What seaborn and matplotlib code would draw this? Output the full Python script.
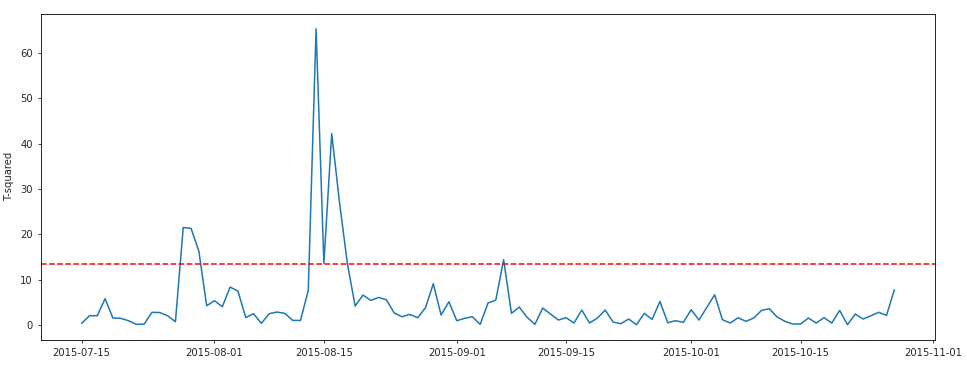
import matplotlib
matplotlib.use("Agg")
import matplotlib.pyplot as plt
import matplotlib.dates as mdates
import seaborn as sns
import pandas as pd

# ---- data ----
start_date = "2015-07-15"
t_squared = [
    0.37, 2.05, 2.05, 5.8, 1.54, 1.47, 0.95, 0.15, 0.2, 2.8,
    2.75, 2.05, 0.73, 21.5, 21.3, 16.3, 4.25, 5.35, 4.03, 8.36,
    7.48, 1.65, 2.49, 0.37, 2.49, 2.86, 2.57, 1.03, 1.0, 7.62,
    65.3, 13.6, 42.2, 27.0, 13.6, 4.18, 6.6, 5.43, 6.08, 5.57,
    2.64, 1.83, 2.35, 1.61, 3.81, 9.1, 2.2, 5.13, 0.95, 1.47,
    1.83, 0.15, 4.84, 5.5, 14.4, 2.57, 3.96, 1.69, 0.15, 3.74,
    2.42, 1.1, 1.61, 0.44, 3.3, 0.44, 1.54, 3.3, 0.66, 0.29,
    1.32, 0.07, 2.57, 1.25, 5.2, 0.51, 0.95, 0.59, 3.37, 1.1,
    3.89, 6.67, 1.17, 0.44, 1.61, 0.81, 1.54, 3.22, 3.59, 1.76,
    0.81, 0.22, 0.22, 1.54, 0.44, 1.61, 0.44, 3.22, 0.07, 2.42,
    1.32, 2.05, 2.8, 2.13, 7.77,
]
threshold = 13.4
y_label = "T-squared"
date_fmt = "%Y-%m-%d"

df = pd.DataFrame({
    "date": pd.date_range(start_date, periods=len(t_squared), freq="D"),
    "t2": t_squared,
})

sns.set_style("ticks")
plt.rcParams["font.family"] = ["DejaVu Sans"]

fig = plt.figure(figsize=(9.67, 3.66), dpi=100)
ax = fig.add_axes([41 / 967, 1 - 339.5 / 366, (935 - 41) / 967, (339.5 - 14) / 366])

sns.lineplot(data=df, x="date", y="t2", ax=ax, color="#1f77b4", linewidth=1.1)
ax.axhline(threshold, color="red", linestyle="--", linewidth=1.1)

ax.set_xlabel("")
ax.set_ylabel(y_label, fontsize=7.2)
ax.xaxis.set_major_locator(mdates.DayLocator(bymonthday=[1, 15]))
ax.xaxis.set_major_formatter(mdates.DateFormatter(date_fmt))
ax.tick_params(labelsize=7.2, length=2.5, width=0.6)
for s in ax.spines.values():
    s.set_linewidth(0.6)
    s.set_color("black")
ax.margins(x=0.05, y=0.05)

fig.savefig("out.png", dpi=100)
